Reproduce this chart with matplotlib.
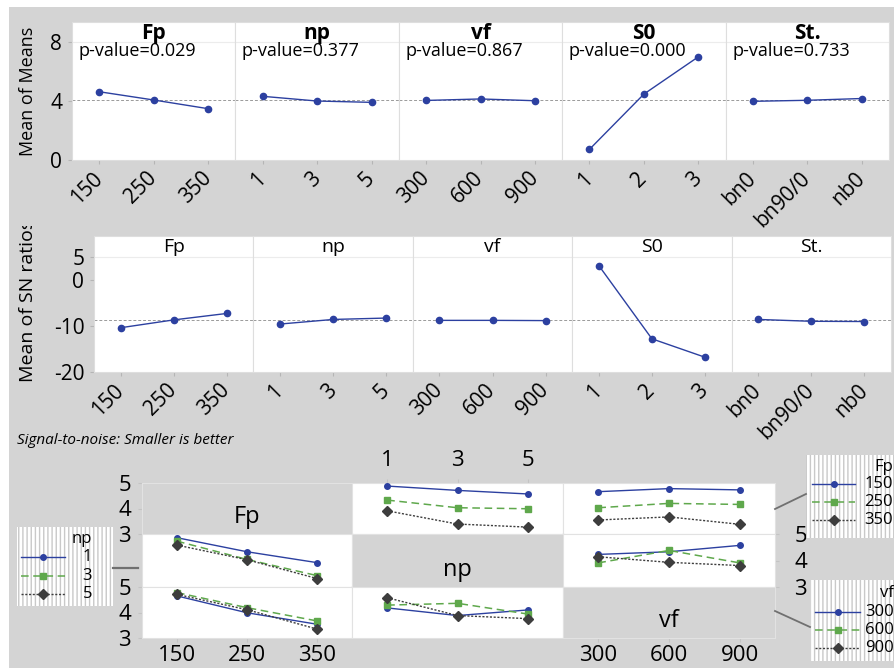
import numpy as np
import matplotlib
matplotlib.use('Agg')
import matplotlib.pyplot as plt
from matplotlib.patches import Rectangle
from matplotlib.lines import Line2D
from matplotlib.transforms import Bbox

plt.rcParams['font.family'] = ['Open Sans', 'DejaVu Sans']

W, H = 894, 668

# factors and their levels
factors = ['Fp', 'np', 'vf', 'S0', 'St.']
lev_Fp = ['150', '250', '350']
lev_np = ['1', '3', '5']
lev_vf = ['300', '600', '900']
lev_S0 = ['1', '2', '3']
lev_St = ['bn0', 'bn90/0', 'nb0']
p_values = ['0.029', '0.377', '0.867', '0.000', '0.733']

# main effects for means
mean_Fp = [4.63, 4.07, 3.48]
mean_np = [4.32, 4.00, 3.91]
mean_vf = [4.04, 4.14, 4.02]
mean_S0 = [0.72, 4.47, 7.00]
mean_St = [3.98, 4.05, 4.17]

# main effects for SN ratios
sn_Fp = [-10.4, -8.7, -7.3]
sn_np = [-9.6, -8.6, -8.3]
sn_vf = [-8.8, -8.8, -8.85]
sn_S0 = [3.1, -12.8, -16.8]
sn_St = [-8.6, -9.0, -9.05]

# interaction means, one row per level of the line factor
int_np_by_Fp = [[4.88, 4.71, 4.57], [4.33, 4.03, 3.99], [3.91, 3.39, 3.27]]
int_vf_by_Fp = [[4.66, 4.78, 4.73], [4.03, 4.20, 4.16], [3.55, 3.67, 3.38]]
int_Fp_by_np = [[4.86, 4.33, 3.92], [4.73, 4.04, 3.43], [4.58, 4.03, 3.32]]
int_vf_by_np = [[4.23, 4.33, 4.57], [3.91, 4.38, 3.91], [4.14, 3.93, 3.81]]
int_Fp_by_vf = [[4.65, 3.99, 3.54], [4.78, 4.19, 3.67], [4.71, 4.11, 3.35]]
int_np_by_vf = [[4.18, 3.88, 4.10], [4.29, 4.36, 3.94], [4.58, 3.88, 3.76]]

levels = [lev_Fp, lev_np, lev_vf, lev_S0, lev_St]
means = [mean_Fp, mean_np, mean_vf, mean_S0, mean_St]
sns_ = [sn_Fp, sn_np, sn_vf, sn_S0, sn_St]

BG = '#d4d4d4'
BLUE = '#2c40a0'
GREEN = '#5fa84c'
DARK = '#3d3d3d'
SPINE = '#dedede'
styles = [dict(color=BLUE, ls='-', lw=1.0, marker='o', ms=4),
          dict(color=GREEN, ls=(0, (5, 3)), lw=1.1, marker='s', ms=5),
          dict(color=DARK, ls=(0, (1.5, 1.2)), lw=1.0, marker='D', ms=5)]

fig = plt.figure(figsize=(W / 100, H / 100), dpi=100, facecolor='white')


def px_axes(x0, y0, x1, y1, **kw):
    return fig.add_axes([x0 / W, 1 - y1 / H, (x1 - x0) / W, (y1 - y0) / H], **kw)


# grey backdrop
bg = px_axes(0, 0, W, H, zorder=-5)
bg.set_xlim(0, W)
bg.set_ylim(H, 0)
bg.axis('off')
bg.add_patch(Rectangle((9, 7), W - 9, H - 7, facecolor=BG, edgecolor='none'))


def style_facet(ax):
    for s in ax.spines.values():
        s.set_color(SPINE)
        s.set_linewidth(0.8)
    ax.tick_params(color='#b5b5b5', length=3, width=0.8)


def main_effects(values, x_edges, y0, y1, ylim, yticks, bold, pvals=None):
    grand = np.mean(values[0])
    for i, f in enumerate(factors):
        ax = px_axes(x_edges[i], y0, x_edges[i + 1], y1)
        style_facet(ax)
        ax.axhline(grand, color='#9a9a9a', lw=0.7, ls=(0, (3, 2)), zorder=1)
        ax.axhline(yticks[-1], color='#ececec', lw=0.8, zorder=0)
        ax.plot(range(3), values[i], color=BLUE, lw=1.0, marker='o', ms=4.5, zorder=3)
        ax.set_xlim(-0.5, 2.5)
        ax.set_ylim(*ylim)
        ax.set_xticks(range(3))
        ax.set_xticklabels(levels[i], rotation=45, ha='right', va='center',
                           rotation_mode='anchor', fontsize=15)
        ax.tick_params(axis='x', pad=8)
        ax.set_yticks(yticks)
        if i == 0:
            ax.set_yticklabels([str(t) for t in yticks], fontsize=15)
            ax.tick_params(axis='y', pad=4)
        else:
            ax.tick_params(axis='y', left=False, labelleft=False)
        ax.text(0.5, 0.92, f, transform=ax.transAxes, ha='center', va='center',
                fontsize=15 if bold else 14, fontweight='bold' if bold else 'normal')
        if pvals is not None:
            ax.text(0.04, 0.79, 'p-value=' + pvals[i], transform=ax.transAxes,
                    ha='left', va='center', fontsize=13)


main_effects(means, np.linspace(72, 889, 6), 22, 160, (0, 9.36), [0, 4, 8], True, p_values)
main_effects(sns_, np.linspace(94, 891, 6), 236, 372, (-20, 9.5), [-20, -10, 0, 5], False)

fig.text(28 / W, 1 - 91 / H, 'Mean of Means', rotation=90, ha='center', va='center', fontsize=13)
sn_lab = fig.text(28 / W, 1 - 382 / H, 'Mean of SN ratios', rotation=90, ha='center',
                  va='bottom', fontsize=14, clip_on=True)
sn_lab.set_clip_box(Bbox.from_extents(0, 0, W, H - 226))
fig.text(17 / W, 1 - 440 / H, 'Signal-to-noise: Smaller is better', ha='left', va='center',
         fontsize=11, style='italic')

# interaction plot matrix
col_x = [142, 352, 563, 775]
row_y = [483, 534, 587, 638]
mat_factors = ['Fp', 'np', 'vf']
mat_levels = [lev_Fp, lev_np, lev_vf]
cells = {(0, 1): int_np_by_Fp, (0, 2): int_vf_by_Fp,
         (1, 0): int_Fp_by_np, (1, 2): int_vf_by_np,
         (2, 0): int_Fp_by_vf, (2, 1): int_np_by_vf}

for r in range(3):
    for c in range(3):
        ax = px_axes(col_x[c], row_y[r], col_x[c + 1], row_y[r + 1])
        for s in ax.spines.values():
            s.set_color('#e2e2e2')
            s.set_linewidth(0.8)
        ax.set_xlim(-0.5, 2.5)
        ax.set_ylim(3, 5)
        ax.set_xticks([])
        ax.set_yticks([])
        if r == c:
            ax.set_facecolor(BG)
            ax.text(0.5, 0.33, mat_factors[r], transform=ax.transAxes, ha='center',
                    va='center', fontsize=17)
        else:
            for k, row in enumerate(cells[(r, c)]):
                ax.plot(range(3), row, clip_on=False, zorder=3, **styles[k])
        # axis labels alternate around the matrix
        if (c == 0 and r in (0, 2)) or (c == 2 and r == 1):
            ax.set_yticks([3, 4, 5])
            ax.set_yticklabels(['3', '4', '5'], fontsize=16)
            if c == 2:
                ax.tick_params(axis='y', left=False, right=True, labelleft=False,
                               labelright=True, pad=11)
            else:
                ax.tick_params(axis='y', pad=5)
        if r == 2 and c in (0, 2):
            ax.set_xticks(range(3))
            ax.set_xticklabels(mat_levels[c], fontsize=16)
            ax.tick_params(axis='x', pad=2)
        if r == 0 and c == 1:
            ax.set_xticks(range(3))
            ax.set_xticklabels(mat_levels[c], fontsize=16)
            ax.tick_params(axis='x', bottom=False, top=True, labelbottom=False,
                           labeltop=True, pad=6)
        ax.tick_params(color='#c4c4c4', length=3, width=0.8)

# legends drawn in pixel space
ov = px_axes(0, 0, W, H, zorder=5)
ov.set_xlim(0, W)
ov.set_ylim(H, 0)
ov.axis('off')


def legend_box(x0, y0, x1, y1, title, labels, title_y, label_ys, label_right, line_x):
    ov.add_patch(Rectangle((x0, y0), x1 - x0, y1 - y0, facecolor='white',
                           edgecolor='#c9c9c9', hatch='||||', linewidth=0))
    ov.text(label_right, title_y, title, ha='right', va='center', fontsize=12)
    for k, (lab, ly) in enumerate(zip(labels, label_ys)):
        st = styles[k]
        ov.add_line(Line2D(line_x, [ly, ly], color=st['color'], ls=st['ls'], lw=st['lw']))
        ov.plot([np.mean(line_x)], [ly], marker=st['marker'], ms=st['ms'],
                color=st['color'], ls='none')
        ov.text(label_right, ly, lab, ha='right', va='center', fontsize=12)


legend_box(17, 527, 113, 606, 'np', lev_np, 539, [557, 576, 594], 92, [21, 65])
legend_box(806, 455, 915, 538, 'Fp', lev_Fp, 467, [484, 502, 520], 893, [812, 855])
legend_box(811, 580, 915, 661, 'vf', lev_vf, 593, [612, 630, 648], 894, [815, 860])

ov.add_line(Line2D([113, 138], [568, 568], color='#707070', lw=1.6))
ov.add_line(Line2D([775, 806], [509, 494], color='#707070', lw=1.3))
ov.add_line(Line2D([775, 810], [611, 627], color='#707070', lw=1.3))

fig.savefig('out.png', dpi=100, facecolor='white')
